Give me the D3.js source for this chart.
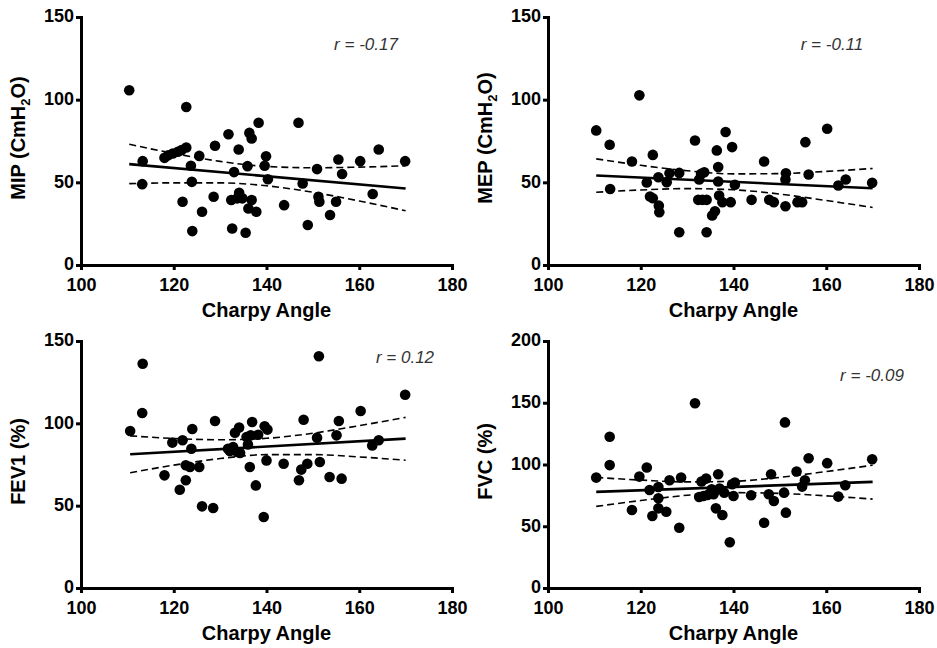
<!DOCTYPE html>
<html><head><meta charset="utf-8">
<script src="https://cdn.jsdelivr.net/npm/d3@7"></script>
<style>
html,body{margin:0;padding:0;background:#fff;}
svg{display:block;}
.axis path,.axis line{stroke:#000;stroke-width:3px;}
.axis text{font-family:"Liberation Sans",Arial,Helvetica,sans-serif;font-weight:bold;font-size:18px;fill:#000;}
</style></head>
<body>
<svg id="chart" width="937" height="648"></svg>
<script>
// ---- Data ----
const xTicks = [100, 120, 140, 160, 180];
const yTicks150 = [0, 50, 100, 150];
const yTicks200 = [0, 50, 100, 150, 200];

const mipPoints = [[110.4,105.7],[113.3,62.8],[113.2,48.9],[118,64.8],[118.8,66.4],[119.8,67.4],[120.9,68.5],[121.7,69.5],[122.7,71.1],[122.7,95.6],[121.9,38.3],[123.7,60],[123.9,50.3],[124,20.5],[125.5,66],[126.1,32.2],[128.6,41.3],[128.9,72.1],[131.8,79.1],[133,56.2],[132.4,39.3],[132.6,22.1],[134,69.9],[134.1,43.7],[133.7,40.3],[134.8,40.3],[135.9,59.8],[135.5,19.5],[136.3,79.9],[136.8,76.5],[136.8,39.3],[136.1,34.2],[137.8,32.2],[138.3,86],[139.6,60],[139.9,65.8],[140.3,51.9],[143.8,36.2],[146.9,86],[147.8,49.3],[148.9,24.2],[150.9,58],[151.2,41.3],[151.4,38.3],[153.7,30.2],[155,38.3],[155.5,63.8],[156.3,55],[160.2,62.8],[162.9,42.9],[164.2,69.9],[169.9,62.8]];
const mepPoints = [[110.4,81.4],[113.3,72.7],[113.4,46],[118.1,62.6],[119.7,102.6],[121.3,49.9],[122,41.4],[122.6,40.4],[122.6,66.6],[123.8,53.1],[123.9,35.9],[124,31.9],[125.6,50.1],[126.2,55.5],[128.3,55.7],[128.3,19.8],[131.7,75.3],[132.6,51.7],[133,55.1],[133.7,56.1],[132.4,39.4],[133.3,39.4],[134.2,39.4],[134.2,19.8],[135.4,29.9],[136,32.5],[136.4,69.3],[136.7,59.2],[136.7,50.5],[136.9,42],[137.6,38],[138.3,80.4],[139.4,38],[139.7,71.3],[140.3,48.5],[143.9,39.4],[146.6,62.6],[147.7,39.4],[148.7,38],[151.2,51.7],[151.3,55.5],[151.2,35.5],[153.8,38],[154.8,38],[155.5,74.3],[156.2,54.7],[160.2,82.4],[162.6,48.1],[164.2,51.7],[169.9,49.7]];
const fev1Points = [[110.6,95.3],[113.3,136.2],[113.2,106.3],[118,68.4],[119.7,88.3],[121.9,89.7],[121.3,59.7],[122.6,74.5],[122.6,65.4],[123.8,84.6],[124,96.6],[123.5,73.5],[125.5,73.5],[126.1,49.6],[128.5,48.6],[128.9,101.4],[131.7,84.6],[132.1,83.2],[132.8,85.6],[133.2,94.3],[133.7,82.6],[134.1,97.4],[134.3,82],[135.7,91.7],[136,87.2],[136.4,73.5],[136.9,100.8],[136.6,92.7],[137.7,62.3],[138.2,93.1],[139.4,43.1],[139.6,98.2],[140.2,96.2],[140,77.5],[143.7,75.5],[147,65.4],[147.5,71.9],[148,102.2],[148.8,75.5],[150.9,91.3],[151.3,140.7],[151.5,76.5],[153.6,67.4],[155.1,92.7],[155.6,101.4],[156.2,66.4],[160.3,107.5],[162.8,86.6],[164.2,89.7],[169.9,117.4]];
const fvcPoints = [[110.4,89.4],[113.3,122.5],[113.3,99.5],[118.1,63.1],[119.7,90.2],[121.3,97.6],[121.9,79.4],[122.5,58.3],[123.8,81.8],[123.8,72.6],[123.8,64.5],[125.5,61.8],[126.2,87.3],[128.3,48.8],[128.7,89.4],[131.7,149.6],[132.6,73.7],[133.1,86.2],[133.5,74.5],[134.1,88.6],[134.4,75.3],[135.3,79.9],[135.7,75.9],[136.2,64.5],[136.7,92.1],[137,80.5],[137.6,59.1],[138,77.2],[139.7,84],[140,74.5],[140.3,85.4],[143.8,75.1],[146.6,52.8],[147.6,75.9],[148.1,92.1],[148.7,70.5],[150.9,77.2],[151.1,134.1],[151.3,61],[153.6,94.3],[154.8,82.1],[155.4,87.3],[156.2,105.1],[160.2,101.1],[162.6,74],[164.1,83.2],[169.9,104.3],[139.2,37.1]];

// regression lines: [x, y] at both ends
const mipFit = [[110.4,61.0],[170.0,46.3]];
const mepFit = [[110.4,54.1],[170.0,46.4]];
const fev1Fit = [[110.6,81.2],[170.0,90.7]];
const fvcFit = [[110.4,77.8],[170.0,85.9]];

// confidence bands: [x, upper, lower]
const mipBand = [[110.4,73.0,49.2],[120,67.5,49.7],[130,62.7,49.7],[140,59.6,47.9],[150,58.8,44.0],[160,59.2,38.7],[170,60.0,32.8]];
const mepBand = [[110.4,64.2,44.0],[120,60.3,45.4],[130,57.0,46.2],[140,55.1,45.5],[150,55.3,42.9],[160,56.6,39.0],[170,58.4,34.8]];
const fev1Band = [[110.6,92.4,70.0],[120,90.8,74.6],[130,90.0,78.6],[140,90.9,81.0],[150,94.0,81.0],[160,98.6,79.6],[170,103.6,77.6]];
const fvcBand = [[110.4,89.5,66.1],[120,87.4,70.8],[130,85.9,75.1],[140,86.4,77.2],[150,89.6,76.6],[160,94.3,74.6],[170,99.4,72.0]];

const yLabels = ["MIP (CmH|2|O)", "MEP (CmH|2|O)", "FEV1 (%)", "FVC (%)"];
const rLabels = ["r = -0.17", "r = -0.11", "r = 0.12", "r = -0.09"];
const xLabel = "Charpy Angle";

// ---- Layout ----
const panels = [
  {pts: mipPoints, fit: mipFit, band: mipBand, ymax: 150, yt: yTicks150, left: 81, right: 452, top: 17, bottom: 265, title: yLabels[0], r: rLabels[0], rx: 366, ry: 50},
  {pts: mepPoints, fit: mepFit, band: mepBand, ymax: 150, yt: yTicks150, left: 548, right: 919, top: 17, bottom: 265, title: yLabels[1], r: rLabels[1], rx: 832, ry: 50},
  {pts: fev1Points, fit: fev1Fit, band: fev1Band, ymax: 150, yt: yTicks150, left: 81, right: 452, top: 341, bottom: 588, title: yLabels[2], r: rLabels[2], rx: 405, ry: 363},
  {pts: fvcPoints, fit: fvcFit, band: fvcBand, ymax: 200, yt: yTicks200, left: 548, right: 919, top: 341, bottom: 588, title: yLabels[3], r: rLabels[3], rx: 872, ry: 381}
];

const svg = d3.select("#chart");
const font = '"Liberation Sans",Arial,Helvetica,sans-serif';

panels.forEach(p => {
  const x = d3.scaleLinear().domain([100, 180]).range([p.left, p.right]);
  const y = d3.scaleLinear().domain([0, p.ymax]).range([p.bottom, p.top]);
  const g = svg.append("g");

  // axes
  g.append("g").attr("class", "axis")
    .attr("transform", `translate(0,${p.bottom})`)
    .call(d3.axisBottom(x).tickValues(xTicks).tickSize(5).tickSizeOuter(0).tickPadding(8).tickFormat(d3.format("d")));
  const ya = g.append("g").attr("class", "axis")
    .attr("transform", `translate(${p.left},0)`)
    .call(d3.axisLeft(y).tickValues(p.yt).tickSize(5).tickSizeOuter(0).tickPadding(2).tickFormat(d3.format("d")));
  ya.selectAll("text").attr("dy", "0.27em");
  g.selectAll(".axis path").attr("stroke-linecap", "square");

  // confidence bands
  const up = d3.line().x(d => x(d[0])).y(d => y(d[1])).curve(d3.curveMonotoneX);
  const lo = d3.line().x(d => x(d[0])).y(d => y(d[2])).curve(d3.curveMonotoneX);
  g.append("path").attr("d", up(p.band)).attr("fill", "none").attr("stroke", "#000")
    .attr("stroke-width", 1.6).attr("stroke-dasharray", "7,4");
  g.append("path").attr("d", lo(p.band)).attr("fill", "none").attr("stroke", "#000")
    .attr("stroke-width", 1.6).attr("stroke-dasharray", "7,4");

  // points
  g.selectAll("circle.pt").data(p.pts).enter().append("circle")
    .attr("class", "pt").attr("cx", d => x(d[0])).attr("cy", d => y(d[1]))
    .attr("r", 5.3).attr("fill", "#000");

  // regression line
  g.append("path").attr("d", d3.line().x(d => x(d[0])).y(d => y(d[1]))(p.fit))
    .attr("fill", "none").attr("stroke", "#000").attr("stroke-width", 2.6);

  // x label
  g.append("text").attr("x", (p.left + p.right) / 2).attr("y", p.bottom + 52)
    .attr("text-anchor", "middle").attr("font-family", font).attr("font-weight", "bold")
    .attr("font-size", 20).text(xLabel);

  // y label (with optional subscript)
  const parts = p.title.split("|");
  const cy = (p.top + p.bottom) / 2 - 3;
  const yt = g.append("text")
    .attr("transform", `translate(${p.left - 56},${cy}) rotate(-90)`)
    .attr("text-anchor", "middle").attr("font-family", font).attr("font-weight", "bold")
    .attr("font-size", 20);
  yt.append("tspan").text(parts[0]);
  if (parts.length > 1) {
    yt.append("tspan").attr("font-size", 13).attr("dy", 5).text(parts[1]);
    yt.append("tspan").attr("dy", -5).text(parts[2]);
  }

  // r annotation
  g.append("text").attr("x", p.rx).attr("y", p.ry).attr("text-anchor", "middle")
    .attr("font-family", font).attr("font-style", "italic").attr("font-size", 17)
    .attr("fill", "#333").text(p.r);
});
</script>
</body></html>
